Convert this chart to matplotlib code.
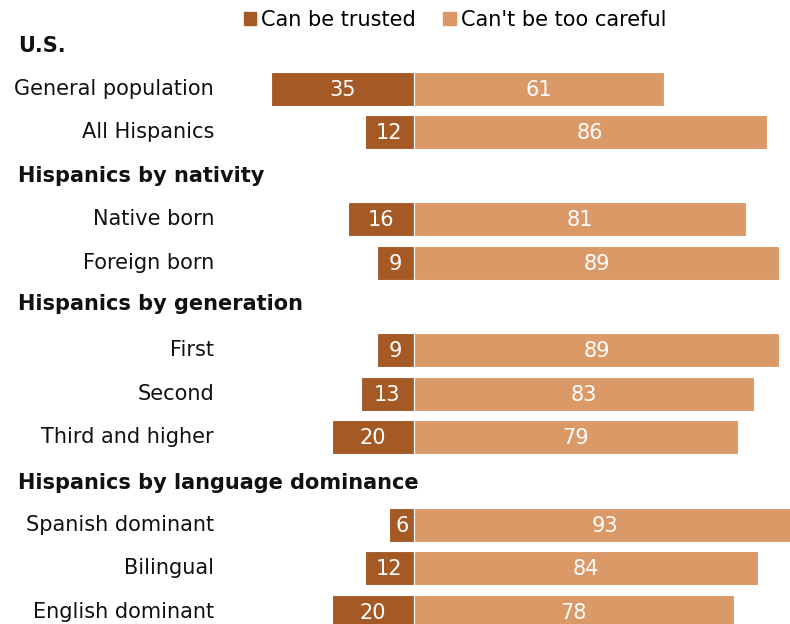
import matplotlib
matplotlib.use("Agg")
import matplotlib.pyplot as plt
from matplotlib.patches import Patch

groups = ["U.S.", "Hispanics by nativity", "Hispanics by generation",
          "Hispanics by language dominance"]
categories = [
    ["General population", "All Hispanics"],
    ["Native born", "Foreign born"],
    ["First", "Second", "Third and higher"],
    ["Spanish dominant", "Bilingual", "English dominant"],
]
trusted = [[35, 12], [16, 9], [9, 13, 20], [6, 12, 20]]
careful = [[61, 86], [81, 89], [89, 83, 79], [93, 84, 78]]

DARK = "#A55A26"
LIGHT = "#DC9968"

W, H = 790, 624
fig = plt.figure(figsize=(W / 100, H / 100), dpi=100)
ax = fig.add_axes([0, 0, 1, 1])
# axis units: 1 unit = 1 pixel vertically, x in percent with zero at pixel 414
scale = 4.1
x0 = 414
ax.set_xlim(-x0 / scale, (W - x0) / scale)
ax.set_ylim(H, 0)
ax.axis("off")

step = 43.6
header_shift = [1, 0, -3, 2]
y = 45
fs = 15
label_x = (214 - x0) / scale
head_x = (18 - x0) / scale
for g, cats, tr, ca, hs in zip(groups, categories, trusted, careful, header_shift):
    ax.text(head_x, y + hs, g, ha="left", va="center", fontsize=fs,
            fontweight="bold", color="#111111")
    y += step
    for c, t, v in zip(cats, tr, ca):
        ax.barh(y, -t, height=34, color=DARK, edgecolor="white", linewidth=0.8)
        ax.barh(y, v, height=34, color=LIGHT, edgecolor="white", linewidth=0.8)
        ax.text(-t / 2, y + 1, str(t), ha="center", va="center",
                color="white", fontsize=fs)
        ax.text(v / 2, y + 1, str(v), ha="center", va="center",
                color="white", fontsize=fs)
        ax.text(label_x, y, c, ha="right", va="center", fontsize=fs,
                color="#111111")
        y += step

handles = [Patch(color=DARK, label="Can be trusted"),
           Patch(color=LIGHT, label="Can't be too careful")]
ax.legend(handles=handles, loc="center", bbox_to_anchor=(455 / W, 1 - 20 / H),
          ncol=2, frameon=False, fontsize=fs, handlelength=0.6,
          handleheight=0.6, handletextpad=0.25, columnspacing=1.3,
          borderpad=0)

fig.savefig("out.png", dpi=100)
